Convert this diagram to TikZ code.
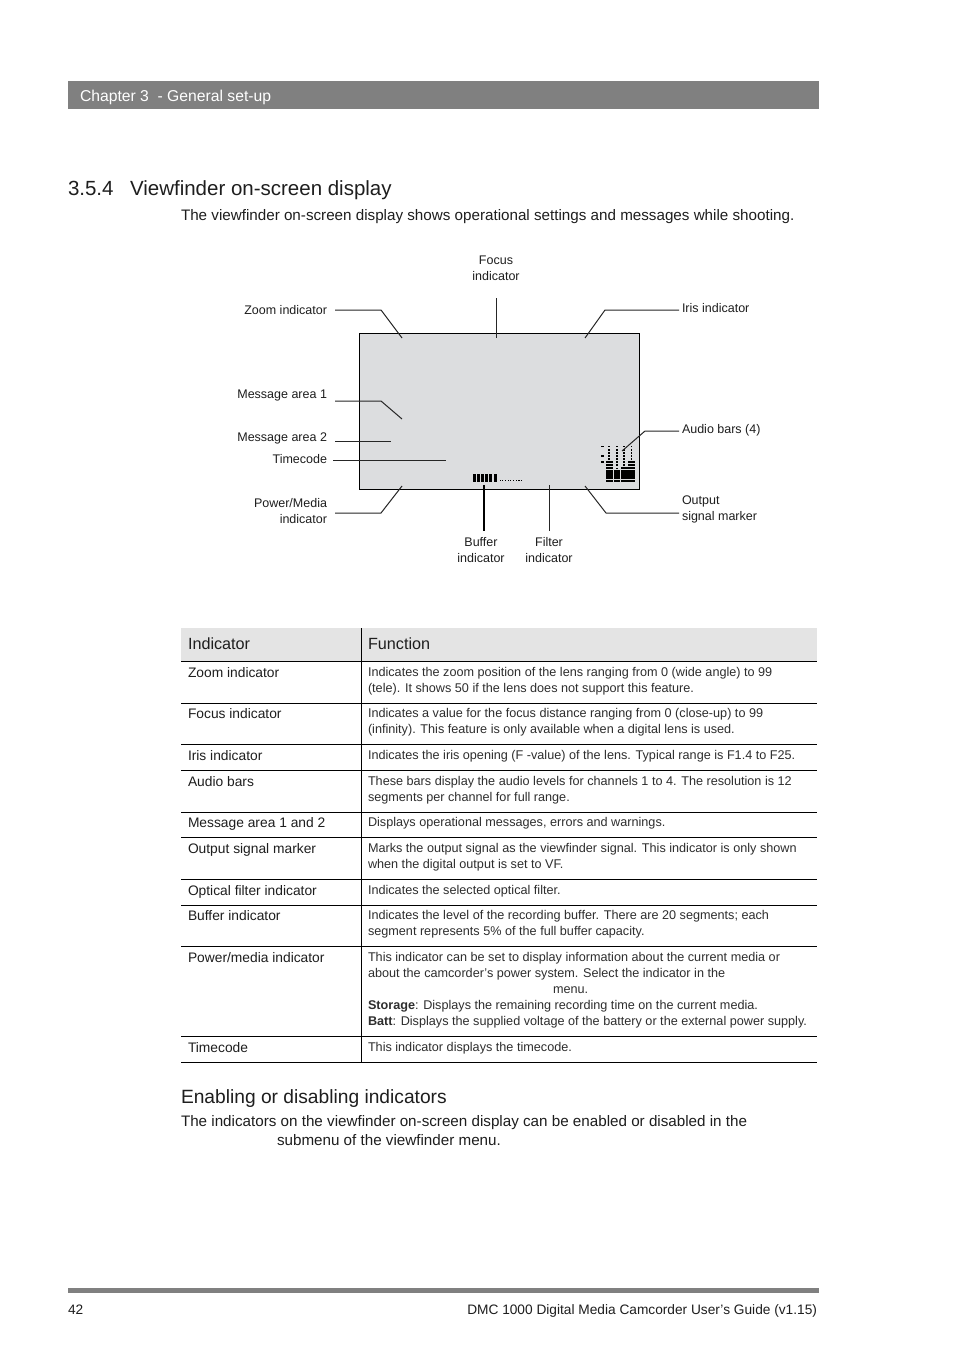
\documentclass[tikz,border=0pt]{standalone}
\usepackage{fontspec}
\setmainfont{Liberation Sans}
\newcommand{\fsz}[1]{\fontsize{#1pt}{#1pt}\selectfont}
\definecolor{hdrgray}{HTML}{808080}
\definecolor{screengray}{HTML}{DCDDDF}
\definecolor{thgray}{HTML}{E4E4E4}
\definecolor{ink}{HTML}{1E1E1E}
\definecolor{lightink}{HTML}{2E2E2E}
\tikzset{
  txt/.style={inner sep=0pt, outer sep=0pt, text height=0pt, text depth=0pt, font=\fsz{#1}, yshift={-0.38*#1}},
  lab/.style={txt=12.5, text=ink},
  body/.style={txt=15.2, text=ink},
  cellL/.style={txt=13.8, text=ink},
  cellR/.style={txt=12.65, text=lightink},
  cellH/.style={txt=16.2, text=ink},
  con/.style={draw=black!85, line width=1pt},
  rule/.style={draw=black, line width=1pt},
}
\begin{document}
\begin{tikzpicture}[x=1pt,y=-1pt]
\fill[white] (0,0) rectangle (954,1351);
\useasboundingbox (0,0) rectangle (954,1351);

% header bar
\fill[hdrgray] (68,81) rectangle (819,109);
\node[txt=15.7, anchor=west, text=white] (chap) at (80,96) {Chapter 3\ \ - General set-up};

% heading
\node[txt=20.5, anchor=west, text=ink] (secnum) at (68,188) {3.5.4};
\node[txt=20.5, anchor=west, text=ink] (sectitle) at (130,188) {Viewfinder on-screen display};
\node[body, anchor=west] (intro) at (181,215) {The viewfinder on-screen display shows operational settings and messages while shooting.};

% screen
\node[draw=black, line width=1pt, fill=screengray, minimum width=280, minimum height=156, anchor=north west, inner sep=0pt] (screen) at (359,333) {};

% buffer segments
\foreach \i in {0,...,5} \fill[black] (473+\i*4.1,474) rectangle ++(3,8);
\foreach \i in {0,...,8} \fill[black] (499.5+\i*2.7,480.3) rectangle ++(1.1,1.1);

% audio bars
\foreach \xa/\xb/\lit in {605.5/612.5/7, 613.5/620/4, 621/627.5/5, 628.3/635/7}{
  \foreach \r in {0,...,11}{
    \ifnum\r<\lit
      \fill[black] (\xa,482-\r*3.15) rectangle (\xb,479.5-\r*3.15);
    \else
      \fill[black] ({(\xa+\xb)/2-0.8},482-\r*3.15) rectangle ++(1.6,-1.8);
    \fi
  }
}
\foreach \r in {6,8,11} \fill[black] (600.5,482-\r*3.15) rectangle ++(3,-1.8);

% labels
\node[lab, anchor=center] (lfocus1) at (496,260) {Focus};
\node[lab, anchor=center] (lfocus2) at (496,276) {indicator};
\node[lab, anchor=east] (lzoom) at (327,310) {Zoom indicator};
\node[lab, anchor=west] (liris) at (682,308) {Iris indicator};
\node[lab, anchor=east] (lmsg1) at (327,394) {Message area 1};
\node[lab, anchor=east] (lmsg2) at (327,437) {Message area 2};
\node[lab, anchor=east] (ltc) at (327,459) {Timecode};
\node[lab, anchor=east] (lpow1) at (327,503) {Power/Media};
\node[lab, anchor=east] (lpow2) at (327,519) {indicator};
\node[lab, anchor=west] (laudio) at (682,429) {Audio bars (4)};
\node[lab, anchor=west] (lout1) at (682,500) {Output};
\node[lab, anchor=west] (lout2) at (682,516) {signal marker};
\node[lab, anchor=center] (lbuf1) at (481,542) {Buffer};
\node[lab, anchor=center] (lbuf2) at (481,558) {indicator};
\node[lab, anchor=center] (lfil1) at (549,542) {Filter};
\node[lab, anchor=center] (lfil2) at (549,558) {indicator};

% connector end points inside screen
\coordinate (czoom) at (402,338);
\coordinate (cfocus) at (496,338);
\coordinate (ciris) at (585,338);
\coordinate (cmsg1) at (402,419);
\coordinate (cmsg2) at (391,441);
\coordinate (ctc) at (446,460);
\coordinate (cpow) at (402,486);
\coordinate (caudio) at (622,451);
\coordinate (cout) at (585,486);
\coordinate (cbuf) at (484,485);
\coordinate (cfil) at (549,485);

\draw[con] (335,310) -- (381,310) -- (czoom);
\draw[con] (496,298) -- (cfocus);
\draw[con] (679,310) -- (605,310) -- (ciris);
\draw[con] (335,401) -- (381,401) -- (cmsg1);
\draw[con] (335,441) -- (cmsg2);
\draw[con] (333,460) -- (ctc);
\draw[con] (335,513) -- (381,513) -- (cpow);
\draw[con] (679,431) -- (645,431) -- (caudio);
\draw[con] (679,513) -- (606,513) -- (cout);
\draw[draw=black, line width=2.2pt] (cbuf) -- (484,531);
\draw[con] (cfil) -- (549,531);

% table
\fill[thgray] (181,628) rectangle (817,661);
\foreach \yy in {661,703,744,770,812,837,879,905,946,1036,1062}
  \draw[rule] (181,\yy) -- (817,\yy);
\draw[draw=black, line width=0.8pt] (361,628) -- (361,1062);
\node[cellH, anchor=west] (thind) at (188,643) {Indicator};
\node[cellH, anchor=west] (thfun) at (368,643) {Function};

\node[cellL, anchor=west] (l1) at (188,672) {Zoom indicator};
\node[cellR, anchor=west] (r1a) at (368,672) {Indicates the zoom position of the lens ranging from 0 (wide angle) to 99};
\node[cellR, anchor=west] (r1b) at (368,688) {(tele). It shows 50 if the lens does not support this feature.};

\node[cellL, anchor=west] (l2) at (188,713) {Focus indicator};
\node[cellR, anchor=west] (r2a) at (368,713) {Indicates a value for the focus distance ranging from 0 (close-up) to 99};
\node[cellR, anchor=west] (r2b) at (368,729) {(infinity). This feature is only available when a digital lens is used.};

\node[cellL, anchor=west] (l3) at (188,755) {Iris indicator};
\node[cellR, anchor=west] (r3a) at (368,755) {Indicates the iris opening (F -value) of the lens. Typical range is F1.4 to F25.};

\node[cellL, anchor=west] (l4) at (188,781) {Audio bars};
\node[cellR, anchor=west] (r4a) at (368,781) {These bars display the audio levels for channels 1 to 4. The resolution is 12};
\node[cellR, anchor=west] (r4b) at (368,797) {segments per channel for full range.};

\node[cellL, anchor=west] (l5) at (188,822) {Message area 1 and 2};
\node[cellR, anchor=west] (r5a) at (368,822) {Displays operational messages, errors and warnings.};

\node[cellL, anchor=west] (l6) at (188,848) {Output signal marker};
\node[cellR, anchor=west] (r6a) at (368,848) {Marks the output signal as the viewfinder signal. This indicator is only shown};
\node[cellR, anchor=west] (r6b) at (368,864) {when the digital output is set to VF.};

\node[cellL, anchor=west] (l7) at (188,890) {Optical filter indicator};
\node[cellR, anchor=west] (r7a) at (368,890) {Indicates the selected optical filter.};

\node[cellL, anchor=west] (l8) at (188,915) {Buffer indicator};
\node[cellR, anchor=west] (r8a) at (368,915) {Indicates the level of the recording buffer. There are 20 segments; each};
\node[cellR, anchor=west] (r8b) at (368,931) {segment represents 5\% of the full buffer capacity.};

\node[cellL, anchor=west] (l9) at (188,957) {Power/media indicator};
\node[cellR, anchor=west] (r9a) at (368,957) {This indicator can be set to display information about the current media or};
\node[cellR, anchor=west] (r9b) at (368,973) {about the camcorder’s power system. Select the indicator in the};
\node[cellR, anchor=west] (r9c) at (553,989) {menu.};
\node[cellR, anchor=west] (r9d) at (368,1005) {\textbf{Storage}: Displays the remaining recording time on the current media.};
\node[cellR, anchor=west] (r9e) at (368,1021) {\textbf{Batt}: Displays the supplied voltage of the battery or the external power supply.};

\node[cellL, anchor=west] (l10) at (188,1047) {Timecode};
\node[cellR, anchor=west] (r10a) at (368,1047) {This indicator displays the timecode.};

% subsection
\node[txt=19.2, anchor=west, text=ink] (subhead) at (181,1096) {Enabling or disabling indicators};
\node[body, anchor=west] (para1) at (181,1121) {The indicators on the viewfinder on-screen display can be enabled or disabled in the};
\node[body, anchor=west] (para2) at (277,1140) {submenu of the viewfinder menu.};

% footer
\fill[hdrgray] (68,1288) rectangle (819,1293);
\node[txt=13.7, anchor=west, text=ink] (pagenum) at (68,1309) {42};
\node[txt=13.7, anchor=east, text=ink] (guide) at (817,1309) {DMC 1000 Digital Media Camcorder User’s Guide (v1.15)};
\end{tikzpicture}
\end{document}
